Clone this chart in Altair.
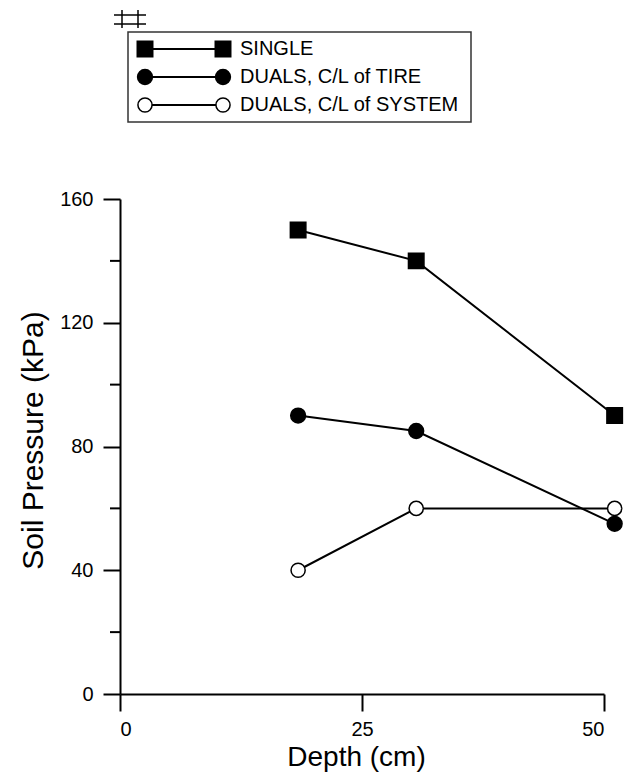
import altair as alt
import pandas as pd

# ---- data ----
series = ["SINGLE", "DUALS, C/L of TIRE", "DUALS, C/L of SYSTEM"]
depth_cm = [18.4, 30.6, 51.1]
single_kpa = [150, 140, 90]
tire_kpa = [90, 85, 55]
system_kpa = [40, 60, 60]

x_ticks = [0, 25, 50]
y_ticks = [0, 40, 80, 120, 160]
y_minor = [20, 60, 100, 140]

shapes = ["square", "circle", "circle"]
fills = ["black", "black", "white"]
sizes = [240, 200, 150]

FONT = "Liberation Sans"

rows = []
for name, vals in zip(series, [single_kpa, tire_kpa, system_kpa]):
    for d, v in zip(depth_cm, vals):
        rows.append({"series": name, "depth": d, "kpa": v})
df = pd.DataFrame(rows)

shape_enc = alt.Shape("series:N", scale=alt.Scale(domain=series, range=shapes), legend=None)
fill_enc = alt.Fill("series:N", scale=alt.Scale(domain=series, range=fills), legend=None)
size_enc = alt.Size("series:N", scale=alt.Scale(domain=series, range=sizes), legend=None)

x_enc = alt.X(
    "depth:Q",
    scale=alt.Scale(domain=[0, 50], nice=False, zero=False),
    axis=alt.Axis(values=x_ticks, title="Depth (cm)", titleFontSize=28, titlePadding=4,
                  labelPadding=8, titleX=236),
)
y_enc = alt.Y(
    "kpa:Q",
    scale=alt.Scale(domain=[0, 160], nice=False),
    axis=alt.Axis(values=y_ticks, title="Soil Pressure (kPa)", titleFontSize=30,
                  titlePadding=11, labelPadding=10, titleY=241),
)

lines = alt.Chart(df).mark_line(color="black", strokeWidth=2).encode(
    x=x_enc, y=y_enc, detail="series:N"
)
points = alt.Chart(df).mark_point(
    filled=True, stroke="black", strokeWidth=1.5, opacity=1, fillOpacity=1
).encode(x=x_enc, y=y_enc, shape=shape_enc, fill=fill_enc, size=size_enc)

minor = alt.Chart(pd.DataFrame({"kpa": y_minor})).mark_rule(
    color="black", strokeWidth=2
).encode(y=alt.Y("kpa:Q", title="Soil Pressure (kPa)"), x=alt.value(-10), x2=alt.value(0))

main = alt.layer(lines, points, minor)

# ---- legend drawn as its own layer ----
leg_df = pd.DataFrame({"series": series * 2, "lx": [0] * 3 + [1] * 3})
leg_x = alt.X("lx:Q", scale=alt.Scale(domain=[0, 1], range=[25, 103]), axis=None)
leg_y = alt.Y("series:N", scale=alt.Scale(domain=series, range=[-150, -94], padding=0), axis=None)

leg_box = alt.Chart(pd.DataFrame({"a": [0]})).mark_rect(
    fill="white", stroke="#333333", strokeWidth=1.5
).encode(x=alt.value(8), x2=alt.value(351), y=alt.value(-167), y2=alt.value(-77))

leg_lines = alt.Chart(leg_df).mark_line(color="black", strokeWidth=2).encode(
    x=leg_x, y=leg_y, detail="series:N"
)
leg_points = alt.Chart(leg_df).mark_point(
    filled=True, stroke="black", strokeWidth=1.5, opacity=1, fillOpacity=1
).encode(x=leg_x, y=leg_y, shape=shape_enc, fill=fill_enc, size=size_enc)
leg_text = alt.Chart(pd.DataFrame({"series": series})).mark_text(
    align="left", baseline="middle", fontSize=20, font=FONT, color="black"
).encode(x=alt.value(120), y=leg_y, text="series:N")

# small cross-hatch glyph above the legend box (decoration)
glyph_src = pd.DataFrame({"a": [0]})
glyph_h1 = alt.Chart(glyph_src).mark_rule(color="black", strokeWidth=1.5).encode(
    x=alt.value(-6), x2=alt.value(26), y=alt.value(-184))
glyph_h2 = alt.Chart(glyph_src).mark_rule(color="black", strokeWidth=1.5).encode(
    x=alt.value(-6), x2=alt.value(26), y=alt.value(-175))
glyph_v1 = alt.Chart(glyph_src).mark_rule(color="black", strokeWidth=1.5).encode(
    x=alt.value(2), y=alt.value(-189), y2=alt.value(-171))
glyph_v2 = alt.Chart(glyph_src).mark_rule(color="black", strokeWidth=1.5).encode(
    x=alt.value(18), y=alt.value(-189), y2=alt.value(-171))

legend = alt.layer(leg_box, leg_lines, leg_points, leg_text,
                   glyph_h1, glyph_h2, glyph_v1, glyph_v2)

chart = (
    alt.layer(main, legend)
    .resolve_scale(x="independent", y="independent")
    .properties(
        width=484,
        height=495,
        padding={"left": 120, "top": 199, "right": 30, "bottom": 81},
        autosize=alt.AutoSizeParams(type="none"),
        background="white",
    )
    .configure_view(stroke=None)
    .configure_axis(
        grid=False,
        domainColor="black",
        domainWidth=2,
        tickColor="black",
        tickWidth=2,
        tickSize=17,
        labelFont=FONT,
        labelFontSize=20,
        labelColor="black",
        titleFont=FONT,
        titleFontWeight="normal",
        titleColor="black",
    )
)

chart.save("out.html", embed_options={"renderer": "svg", "actions": False})
